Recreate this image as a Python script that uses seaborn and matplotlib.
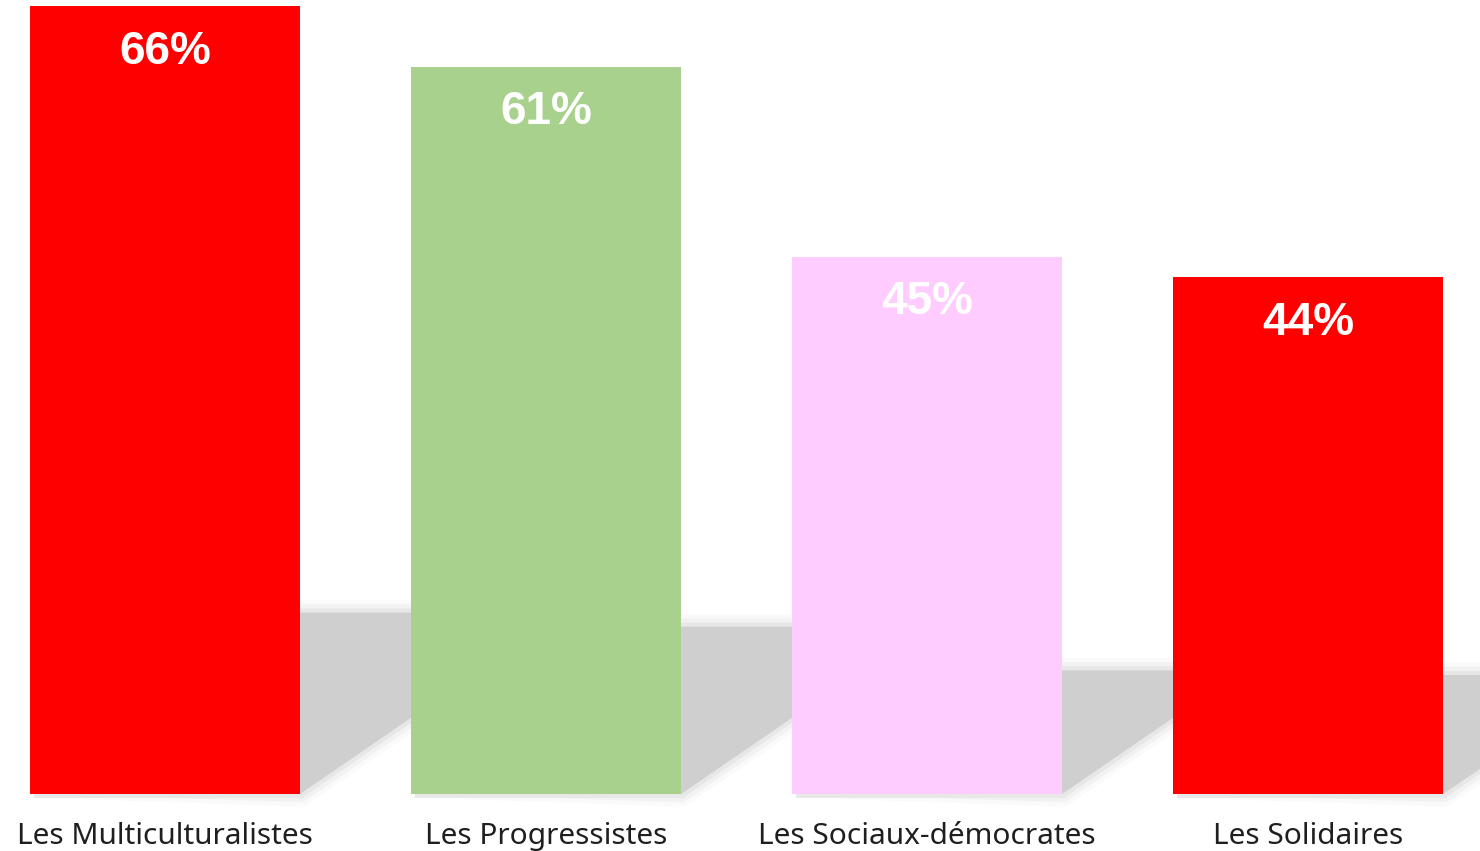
import matplotlib
matplotlib.use("Agg")
import matplotlib.pyplot as plt
import seaborn as sns
import pandas as pd
from matplotlib.patches import Polygon

# data
categories = ["Les Multiculturalistes", "Les Progressistes", "Les Sociaux-démocrates", "Les Solidaires"]
values = [66.3, 61.2, 45.2, 43.5]
value_labels = ["66%", "61%", "45%", "44%"]
bar_colors = ["#FF0000", "#A9D18E", "#FFCCFF", "#FF0000"]

df = pd.DataFrame({"cat": categories, "val": values})

sns.set_theme(style="white")
plt.rcParams["font.family"] = ["Noto Sans", "DejaVu Sans"]

fig = plt.figure(figsize=(14.8, 8.51), dpi=100)
ax = fig.add_axes([0, 0, 1, 1])

bar_w = 0.709
sns.barplot(data=df, x="cat", y="val", hue="cat", palette=bar_colors,
            width=bar_w, legend=False, saturation=1, linewidth=0,
            edgecolor="none", ax=ax, zorder=3)

ax.set_xlim(-0.433, 3.451)
ax.set_ylim(-4.80, 66.8)
ax.axis("off")

# soft perspective shadows behind each bar
shadow_frac = 0.23
slope = 22.0  # data-y per category unit
for i, v in enumerate(values):
    xl, xr = i - bar_w / 2, i + bar_w / 2
    h = v * shadow_frac
    pts = [(xl + 0.15, 0.6), (xr, 0), (xr + h / slope, h), (xl + 0.15, h)]
    for lw, a in [(18, 0.1), (12, 0.18), (6, 0.3)]:
        ax.add_patch(Polygon(pts, closed=True, facecolor="none", edgecolor="#cfcfcf",
                             lw=lw, alpha=a, joinstyle="round", zorder=1))
    ax.add_patch(Polygon(pts, closed=True, facecolor="#cfcfcf", edgecolor="none", zorder=2))
    # faint shadow under bar bottom
    ax.add_patch(plt.Rectangle((xl + 0.01, -0.35), bar_w, 0.35, facecolor="#e8e8e8",
                               edgecolor="none", zorder=2))

# value labels inside bars
for i, (v, lab) in enumerate(zip(values, value_labels)):
    ax.text(i, v - 3.85, lab, ha="center", va="center", color="white",
            fontsize=33, fontweight="bold", family=["Liberation Sans", "DejaVu Sans"], zorder=4)

# category labels
for i, c in enumerate(categories):
    ax.text(i, -3.6, c, ha="center", va="center", color="#1f1f1f", fontsize=21.5, zorder=4)

fig.savefig("out.png", dpi=100, facecolor="white")
